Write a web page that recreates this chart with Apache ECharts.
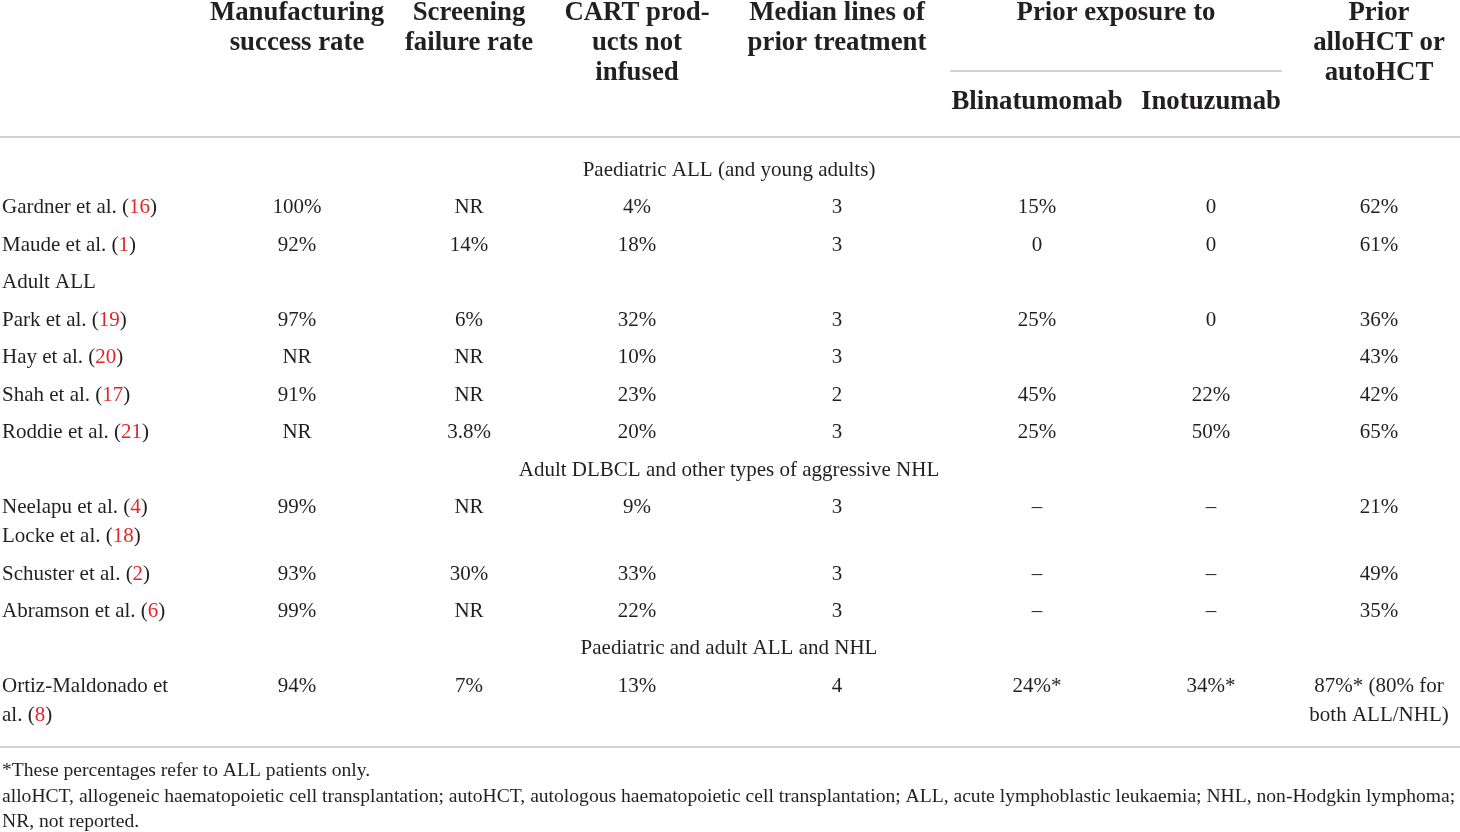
<!DOCTYPE html>
<html>
<head>
<meta charset="utf-8">
<script src="https://cdn.jsdelivr.net/npm/echarts@6/dist/echarts.min.js"></script>
<style>
html,body{margin:0;padding:0;background:#fff;}
#chart{width:1460px;height:832px;}
</style>
</head>
<body>
<div id="chart"></div>
<script>
// ---------- DATA ----------
const headers = ['Manufacturing\nsuccess rate', 'Screening\nfailure rate', 'CART prod-\nucts not\ninfused', 'Median lines of\nprior treatment', 'Blinatumomab', 'Inotuzumab', 'Prior\nalloHCT or\nautoHCT'];
const groupHeader = 'Prior exposure to';
const sectionTitles = ['Paediatric ALL (and young adults)', 'Adult ALL', 'Adult DLBCL and other types of aggressive NHL', 'Paediatric and adult ALL and NHL'];
const sectionStart = [0, 2, 6, 9];
const studies = ['Gardner et al. (16)', 'Maude et al. (1)', 'Park et al. (19)', 'Hay et al. (20)', 'Shah et al. (17)', 'Roddie et al. (21)', 'Neelapu et al. (4)\nLocke et al. (18)', 'Schuster et al. (2)', 'Abramson et al. (6)', 'Ortiz-Maldonado et\nal. (8)'];
const manufacturing = ['100%', '92%', '97%', 'NR', '91%', 'NR', '99%', '93%', '99%', '94%'];
const screening = ['NR', '14%', '6%', 'NR', 'NR', '3.8%', 'NR', '30%', 'NR', '7%'];
const notInfused = ['4%', '18%', '32%', '10%', '23%', '20%', '9%', '33%', '22%', '13%'];
const medianLines = ['3', '3', '3', '3', '2', '3', '3', '3', '3', '4'];
const blinatumomab = ['15%', '0', '25%', '', '45%', '25%', '–', '–', '–', '24%*'];
const inotuzumab = ['0', '0', '0', '', '22%', '50%', '–', '–', '–', '34%*'];
const priorHCT = ['62%', '61%', '36%', '43%', '42%', '65%', '21%', '49%', '35%', '87%* (80% for\nboth ALL/NHL)'];
const footnotes = ['*These percentages refer to ALL patients only.', 'alloHCT, allogeneic haematopoietic cell transplantation; autoHCT, autologous haematopoietic cell transplantation; ALL, acute lymphoblastic leukaemia; NHL, non-Hodgkin lymphoma;', 'NR, not reported.'];

// ---------- LAYOUT / STYLE ----------
const W = 1460, H = 832;
const colX = [2, 297, 469, 637, 837, 1037, 1211, 1379];
const sectionAlign = ['center', 'left', 'center', 'center'];
const tableCenter = 729;
const headerFirstY = 13, headerPitch = 30, subHeaderY = 102;
const bodyTop = 170.5, rowPitch = 37.45, innerLine = 29;
const footY = 771, footPitch = 25.5;
const INK = '#231f20', RED = '#e0262b', RULE = '#c4c4c4';
const FAMILY = '"Liberation Serif", "Times New Roman", serif';
const bodyFont = '21px ' + FAMILY;
const headFont = 'bold 26.8px ' + FAMILY;
const footFont = '19.6px ' + FAMILY;

const rules = [
  { x1: 0, x2: W, y: 137 },
  { x1: 950, x2: 1282, y: 71 },
  { x1: 0, x2: W, y: 747 }
];

// ---------- BUILD CELLS ----------
const cells = [];
function add(x, yCenter, text, align, font, lh) {
  cells.push({ value: [x, yCenter], text, align, font, lh });
}
// header
headers.forEach((h, i) => {
  const col = i + 1;
  if (col === 5 || col === 6) add(colX[col], subHeaderY, h, 'center', headFont, headerPitch);
  else add(colX[col], headerFirstY, h, 'center', headFont, headerPitch);
});
add((rules[1].x1 + rules[1].x2) / 2, headerFirstY, groupHeader, 'center', headFont, headerPitch);

// body
const columns = [studies, manufacturing, screening, notInfused, medianLines, blinatumomab, inotuzumab, priorHCT];
let y = bodyTop;
for (let r = 0; r < studies.length; r++) {
  const s = sectionStart.indexOf(r);
  if (s >= 0) {
    add(sectionAlign[s] === 'left' ? colX[0] : tableCenter, y, sectionTitles[s], sectionAlign[s], bodyFont, innerLine);
    y += rowPitch;
  }
  let lines = 1;
  columns.forEach((col, c) => {
    const t = col[r];
    if (t === '') return;
    lines = Math.max(lines, t.split('\n').length);
    add(colX[c], y, t, c === 0 ? 'left' : 'center', bodyFont, innerLine);
  });
  y += rowPitch + (lines - 1) * innerLine;
}
// footnotes
footnotes.forEach((f, i) => add(colX[0], footY + i * footPitch, f, 'left', footFont, footPitch));

function richify(t) {
  return t.replace(/\((\d+)\)/g, '({r|$1})');
}

const chart = echarts.init(document.getElementById('chart'), null, { renderer: 'canvas' });
chart.setOption({
  backgroundColor: '#ffffff',
  animation: false,
  grid: { left: 0, right: 0, top: 0, bottom: 0 },
  xAxis: { type: 'value', min: 0, max: W, show: false },
  yAxis: { type: 'value', min: 0, max: H, inverse: true, show: false },
  series: [
    {
      type: 'custom',
      silent: true,
      data: rules.map(r => [r.x1, r.x2, r.y]),
      renderItem: (params, api) => {
        const a = api.coord([api.value(0), api.value(2)]);
        const b = api.coord([api.value(1), api.value(2)]);
        return { type: 'line', shape: { x1: a[0], y1: a[1], x2: b[0], y2: b[1] }, style: { stroke: RULE, lineWidth: 1.4 } };
      }
    },
    {
      type: 'custom',
      silent: true,
      data: cells.map(c => c.value),
      renderItem: (params, api) => {
        const c = cells[params.dataIndex];
        const p = api.coord([api.value(0), api.value(1)]);
        return {
          type: 'text',
          x: p[0],
          y: p[1] - c.lh / 2,
          style: {
            text: richify(c.text),
            font: c.font,
            fill: INK,
            align: c.align,
            verticalAlign: 'top',
            lineHeight: c.lh,
            rich: { r: { fill: RED, font: c.font, lineHeight: c.lh } }
          }
        };
      }
    }
  ]
});
</script>
</body>
</html>
